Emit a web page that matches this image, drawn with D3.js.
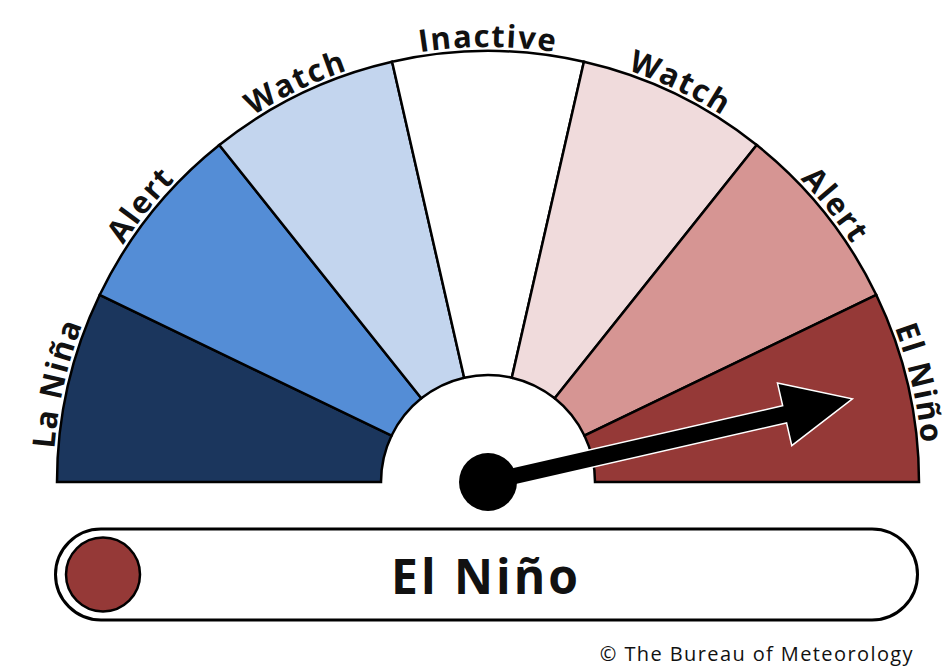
<!DOCTYPE html>
<html>
<head>
<meta charset="utf-8">
<script src="https://cdn.jsdelivr.net/npm/d3@7"></script>
<style>
  body { margin: 0; background: #fff; }
  text { font-family: "Open Sans", "Noto Sans", sans-serif; }
</style>
</head>
<body>
<script>
// gauge stages, left to right
var stages = ["La Niña", "Alert", "Watch", "Inactive", "Watch", "Alert", "El Niño"];
var stageColors = ["#1b365d", "#548dd6", "#c3d5ee", "#ffffff", "#f0dbdc", "#d69593", "#953937"];
var currentValue = 6.5;       // needle position on the 0..7 stage scale
var currentStage = "El Niño";
var credit = "© The Bureau of Meteorology";

var width = 949, height = 666;
var cx = 488, cy = 482, outerR = 431, innerR = 107, labelR = 435;

var svg = d3.select("body").append("svg")
    .attr("width", width)
    .attr("height", height);

//angle scale, 0 = straight up, radians
var angle = d3.scaleLinear()
    .domain([0, stages.length])
    .range([-Math.PI / 2, Math.PI / 2]);

var arc = d3.arc()
    .innerRadius(innerR)
    .outerRadius(outerR);

var gauge = svg.append("g")
    .attr("transform", "translate(" + cx + "," + cy + ")");

gauge.selectAll("path.seg")
    .data(stages)
    .enter()
    .append("path")
    .attr("class", "seg")
    .attr("d", function(d, i) {
        return arc({startAngle: angle(i), endAngle: angle(i + 1)});
    })
    .attr("fill", function(d, i) { return stageColors[i]; })
    .attr("stroke", "#000")
    .attr("stroke-width", 2.5)
    .attr("stroke-linejoin", "miter");

//labels sit on an arc just outside the gauge
gauge.append("path")
    .attr("id", "labelArc")
    .attr("d", "M" + (-labelR) + ",0 A" + labelR + "," + labelR + " 0 0 1 " + labelR + ",0")
    .attr("fill", "none");

gauge.selectAll("text.lab")
    .data(stages)
    .enter()
    .append("text")
    .attr("class", "lab")
    .attr("font-size", 31)
    .attr("font-weight", 700)
    .attr("letter-spacing", 1.6)
    .attr("fill", "#111")
    .append("textPath")
    .attr("href", "#labelArc")
    .attr("startOffset", function(d, i) { return ((i + 0.5) / stages.length * 100) + "%"; })
    .attr("text-anchor", "middle")
    .text(function(d) { return d; });

//needle
var needleDeg = angle(currentValue) * 180 / Math.PI - 90;
var needle = gauge.append("g")
    .attr("transform", "rotate(" + needleDeg + ")");

var shaftW = 8, headBase = 305, headW = 31, tip = 372;
needle.append("path")
    .attr("d", d3.line()([[0, -shaftW], [headBase, -shaftW], [headBase, -headW], [tip, 0],
        [headBase, headW], [headBase, shaftW], [0, shaftW]]) + "Z")
    .attr("fill", "#000")
    .attr("stroke", "#fff")
    .attr("stroke-width", 3)
    .attr("stroke-linejoin", "miter")
    .attr("paint-order", "stroke");

gauge.append("circle")
    .attr("r", 29)
    .attr("fill", "#000");

//status bar
var bar = svg.append("g");
bar.append("rect")
    .attr("x", 55.5)
    .attr("y", 529)
    .attr("width", 862)
    .attr("height", 91)
    .attr("rx", 45.5)
    .attr("fill", "#fff")
    .attr("stroke", "#000")
    .attr("stroke-width", 3);

bar.append("circle")
    .attr("cx", 103)
    .attr("cy", 574.5)
    .attr("r", 37)
    .attr("fill", stageColors[stages.lastIndexOf(currentStage)])
    .attr("stroke", "#000")
    .attr("stroke-width", 2.5);

bar.append("text")
    .attr("x", 486)
    .attr("y", 594)
    .attr("text-anchor", "middle")
    .attr("font-size", 48)
    .attr("font-weight", 700)
    .attr("letter-spacing", 3)
    .attr("fill", "#111")
    .text(currentStage);

svg.append("text")
    .attr("x", 914)
    .attr("y", 661)
    .attr("text-anchor", "end")
    .attr("font-size", 20)
    .attr("letter-spacing", 1.4)
    .attr("fill", "#111")
    .text(credit);
</script>
</body>
</html>
